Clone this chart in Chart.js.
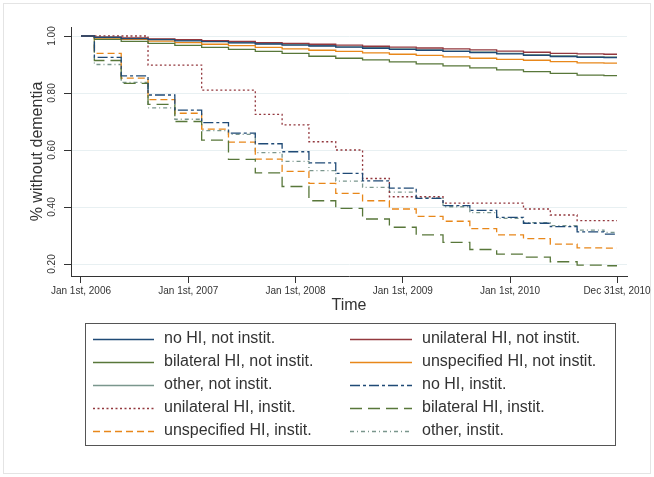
<!DOCTYPE html>
<html>
<head>
<meta charset="utf-8">
<script src="https://cdn.jsdelivr.net/npm/chart.js@4"></script>
<style>
  html, body { margin: 0; padding: 0; background: #fff; }
  #wrap { width: 654px; height: 477px; }
</style>
</head>
<body>
<div id="wrap"><canvas id="kmChart" width="654" height="477"></canvas></div>
<script>
// Time in years since Jan 1st, 2006 (steps every quarter), last point = Dec 31st, 2010
const stepTimes = [0, 0.125, 0.375, 0.625, 0.875, 1.125, 1.375, 1.625, 1.875, 2.125, 2.375,
                   2.625, 2.875, 3.125, 3.375, 3.625, 3.875, 4.125, 4.375, 4.625, 4.875, 4.997];

const xTickValues = [0, 1, 2, 3, 4, 4.997];
const xTickLabels = ['Jan 1st, 2006', 'Jan 1st, 2007', 'Jan 1st, 2008', 'Jan 1st, 2009', 'Jan 1st, 2010', 'Dec 31st, 2010'];
const yTickValues = [0.2, 0.4, 0.6, 0.8, 1.0];
const yTickLabels = ['0.20', '0.40', '0.60', '0.80', '1.00'];

// survival (% without dementia), one value per step
const noHiNotInstit    = [1.000, 0.995, 0.991, 0.987, 0.983, 0.980, 0.976, 0.972, 0.968, 0.965, 0.961, 0.957, 0.953, 0.950, 0.946, 0.942, 0.937, 0.932, 0.928, 0.925, 0.924];
const unilatNotInstit  = [1.000, 0.996, 0.993, 0.990, 0.987, 0.984, 0.981, 0.977, 0.974, 0.971, 0.968, 0.964, 0.961, 0.958, 0.955, 0.951, 0.947, 0.943, 0.939, 0.937, 0.936];
const bilatNotInstit   = [1.000, 0.988, 0.981, 0.974, 0.967, 0.960, 0.953, 0.946, 0.939, 0.929, 0.922, 0.916, 0.909, 0.902, 0.895, 0.888, 0.881, 0.875, 0.869, 0.863, 0.861];
const unspecNotInstit  = [1.000, 0.993, 0.988, 0.982, 0.977, 0.971, 0.966, 0.960, 0.955, 0.950, 0.946, 0.941, 0.936, 0.932, 0.927, 0.922, 0.918, 0.915, 0.910, 0.906, 0.905];
const otherNotInstit   = [1.000, 0.996, 0.992, 0.988, 0.985, 0.981, 0.977, 0.973, 0.970, 0.966, 0.962, 0.959, 0.955, 0.951, 0.947, 0.944, 0.939, 0.935, 0.931, 0.928, 0.927];
const noHiInstit       = [1.000, 0.925, 0.860, 0.793, 0.740, 0.696, 0.659, 0.622, 0.594, 0.555, 0.518, 0.492, 0.466, 0.430, 0.405, 0.388, 0.364, 0.343, 0.331, 0.313, 0.305];
const unilatInstit     = [1.000, 1.000, 1.000, 0.898, 0.898, 0.810, 0.810, 0.725, 0.688, 0.629, 0.600, 0.500, 0.436, 0.436, 0.414, 0.414, 0.414, 0.393, 0.372, 0.352, 0.352];
const bilatInstit      = [1.000, 0.914, 0.834, 0.760, 0.700, 0.635, 0.567, 0.520, 0.472, 0.422, 0.395, 0.358, 0.329, 0.302, 0.276, 0.251, 0.235, 0.224, 0.208, 0.196, 0.194];
const unspecInstit     = [1.000, 0.939, 0.852, 0.777, 0.729, 0.673, 0.628, 0.568, 0.525, 0.483, 0.448, 0.422, 0.393, 0.367, 0.350, 0.324, 0.302, 0.289, 0.270, 0.257, 0.256];
const otherInstit      = [1.000, 0.900, 0.837, 0.748, 0.708, 0.668, 0.655, 0.591, 0.560, 0.528, 0.491, 0.469, 0.452, 0.432, 0.401, 0.380, 0.360, 0.345, 0.335, 0.319, 0.311];

const FONT = '"Liberation Sans", Arial, Helvetica, sans-serif';
const TEXT = '#333333';

// stata s2color-ish palette
const navy = '#1f4a76', maroon = '#93383e', green = '#58773a', orange = '#e8871a', teal = '#7a968d';

function toPoints(vals) {
    return stepTimes.map((t, i) => ({ x: t, y: vals[Math.min(i, vals.length - 1)] }));
}

function series(label, vals, color, dash) {
    return {
        label: label,
        data: toPoints(vals),
        borderColor: color,
        borderWidth: 1.3,
        borderDash: dash,
        stepped: true,
        pointRadius: 0,
        fill: false
    };
}

const datasets = [
    series('no HI, not instit.', noHiNotInstit, navy, []),
    series('unilateral HI, not instit.', unilatNotInstit, maroon, []),
    series('bilateral HI, not instit.', bilatNotInstit, green, []),
    series('unspecified HI, not instit.', unspecNotInstit, orange, []),
    series('other, not instit.', otherNotInstit, teal, []),
    series('no HI, instit.', noHiInstit, navy, [10, 3, 3, 3]),
    series('unilateral HI, instit.', unilatInstit, maroon, [2, 2.5]),
    series('bilateral HI, instit.', bilatInstit, green, [12, 6]),
    series('unspecified HI, instit.', unspecInstit, orange, [7, 4]),
    series('other, instit.', otherInstit, teal, [4, 3, 1, 3])
];

// outer frame + white background
const framePlugin = {
    id: 'frame',
    beforeDraw(chart) {
        const ctx = chart.ctx;
        ctx.save();
        ctx.fillStyle = '#fff';
        ctx.fillRect(0, 0, chart.width, chart.height);
        ctx.strokeStyle = '#e4e4e4';
        ctx.lineWidth = 1;
        ctx.strokeRect(3.5, 3.5, chart.width - 7, chart.height - 7);
        ctx.restore();
    }
};

// vertical y tick labels (stata style)
const yLabelPlugin = {
    id: 'yLabels',
    afterDraw(chart) {
        const ctx = chart.ctx, y = chart.scales.y;
        ctx.save();
        ctx.font = '10px ' + FONT;
        ctx.fillStyle = TEXT;
        ctx.textAlign = 'center';
        ctx.textBaseline = 'middle';
        yTickValues.forEach((v, i) => {
            ctx.save();
            ctx.translate(52.5, y.getPixelForValue(v));
            ctx.rotate(-Math.PI / 2);
            ctx.fillText(yTickLabels[i], 0, 0);
            ctx.restore();
        });
        ctx.restore();
    }
};

// boxed two-column legend
const legendPlugin = {
    id: 'boxLegend',
    afterDraw(chart) {
        const ctx = chart.ctx;
        const box = { left: 85, top: 323, right: 615, bottom: 445 };
        ctx.save();
        ctx.strokeStyle = '#555';
        ctx.lineWidth = 1;
        ctx.strokeRect(box.left + 0.5, box.top + 0.5, box.right - box.left, box.bottom - box.top);
        ctx.font = '16px ' + FONT;
        ctx.fillStyle = TEXT;
        ctx.textBaseline = 'middle';
        const cols = [{ x0: 93, x1: 154, tx: 164 }, { x0: 350, x1: 412, tx: 422 }];
        chart.data.datasets.forEach((ds, i) => {
            const c = cols[i % 2];
            const yy = 339 + Math.floor(i / 2) * 23;
            ctx.beginPath();
            ctx.setLineDash(ds.borderDash || []);
            ctx.strokeStyle = ds.borderColor;
            ctx.lineWidth = ds.borderWidth;
            ctx.moveTo(c.x0, yy + 0.5);
            ctx.lineTo(c.x1, yy + 0.5);
            ctx.stroke();
            ctx.setLineDash([]);
            ctx.fillText(ds.label, c.tx, yy);
        });
        ctx.restore();
    }
};

const config = {
    type: 'line',
    data: { datasets: datasets },
    options: {
        responsive: false,
        animation: false,
        devicePixelRatio: 1,
        layout: { padding: { top: 27, right: 27, bottom: 159, left: 0 } },
        plugins: {
            legend: { display: false },
            tooltip: { enabled: false }
        },
        scales: {
            x: {
                type: 'linear',
                min: -0.093,
                max: 5.09,
                afterBuildTicks: (scale) => { scale.ticks = xTickValues.map(v => ({ value: v })); },
                afterFit: (scale) => { scale.height = 42; },
                ticks: {
                    autoSkip: false,
                    maxRotation: 0,
                    padding: 2,
                    color: TEXT,
                    font: { family: FONT, size: 10 },
                    callback: (value, index) => xTickLabels[index]
                },
                grid: { drawOnChartArea: false, tickLength: 7, tickColor: '#333' },
                border: { color: '#333', width: 1 },
                title: {
                    display: true,
                    text: 'Time',
                    color: TEXT,
                    font: { family: FONT, size: 16 },
                    padding: { top: 0, bottom: 3 }
                }
            },
            y: {
                min: 0.158,
                max: 1.0316,
                afterBuildTicks: (scale) => { scale.ticks = yTickValues.map(v => ({ value: v })); },
                afterFit: (scale) => { scale.width = 71; },
                ticks: { display: false },
                grid: { color: '#e8f0f2', lineWidth: 1, tickLength: 7, tickColor: '#333' },
                border: { color: '#333', width: 1 },
                title: {
                    display: true,
                    text: '% without dementia',
                    color: TEXT,
                    font: { family: FONT, size: 16 },
                    padding: { top: 28, bottom: 0 }
                }
            }
        }
    },
    plugins: [framePlugin, yLabelPlugin, legendPlugin]
};

window.onload = function () {
    const ctx = document.getElementById('kmChart').getContext('2d');
    new Chart(ctx, config);
};
</script>
</body>
</html>
